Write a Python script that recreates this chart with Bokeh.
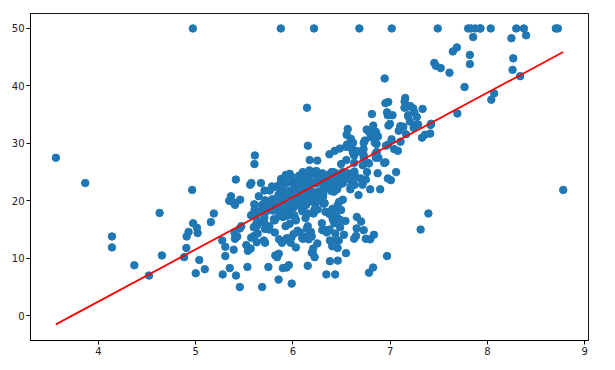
from bokeh.plotting import figure
from bokeh.models import FixedTicker, Range1d
from bokeh.embed import file_html
from bokeh.resources import INLINE

rm = [6.575,6.421,7.185,6.998,7.147,6.430,6.012,6.172,5.631,6.004,
6.377,6.009,5.889,5.949,6.096,5.834,5.935,5.990,5.456,5.727,
5.570,5.965,6.142,5.813,5.924,5.599,5.813,6.047,6.495,6.674,
5.713,6.072,5.950,5.701,6.096,5.933,5.841,5.850,5.966,6.595,
7.024,6.770,6.169,6.211,6.069,5.682,5.786,6.030,5.399,5.602,
5.963,6.115,6.511,5.998,5.888,7.249,6.383,6.816,6.145,5.927,
5.741,5.966,6.456,6.762,7.104,6.290,5.787,5.878,5.594,5.885,
6.417,5.961,6.065,6.245,6.273,6.286,6.279,6.140,6.232,5.874,
6.727,6.619,6.302,6.167,6.389,6.630,6.015,6.121,7.007,7.079,
6.417,6.405,6.442,6.211,6.249,6.625,6.163,8.069,7.820,7.416,
6.727,6.781,6.405,6.137,6.167,5.851,5.836,6.127,6.474,6.229,
6.195,6.715,5.913,6.092,6.254,5.928,6.176,6.021,5.872,5.731,
5.870,6.004,5.961,5.856,5.879,5.986,5.613,5.693,6.431,5.637,
6.458,6.326,6.372,5.822,5.757,6.335,5.942,6.454,5.857,6.151,
6.174,5.019,5.403,5.468,4.903,6.130,5.628,4.926,5.186,5.597,
6.122,5.404,5.012,5.709,6.129,6.152,5.272,6.943,6.066,6.510,
6.250,7.489,7.802,8.375,5.854,6.101,7.929,5.877,6.319,6.402,
5.875,5.880,5.572,6.416,5.859,6.546,6.020,6.315,6.860,6.980,
7.765,6.144,7.155,6.563,5.604,6.153,7.831,6.782,6.556,7.185,
6.951,6.739,7.178,6.800,6.604,7.875,7.287,7.107,7.274,6.975,
7.135,6.162,7.610,7.853,8.034,5.891,6.326,5.783,6.064,5.344,
5.960,5.404,5.807,6.375,5.412,6.182,5.888,6.642,5.951,6.373,
6.951,6.164,6.879,6.618,8.266,8.725,8.040,7.163,7.686,6.552,
5.981,7.412,8.337,8.247,6.726,6.086,6.631,7.358,6.481,6.606,
6.897,6.095,6.358,6.393,5.593,5.605,6.108,6.226,6.433,6.718,
6.487,6.438,6.957,8.259,6.108,5.876,7.454,8.704,7.333,6.842,
7.203,7.520,8.398,7.327,7.206,5.560,7.014,8.297,7.470,5.920,
5.856,6.240,6.538,7.691,6.758,6.854,7.267,6.826,6.482,6.812,
7.820,6.968,7.645,7.923,7.088,6.453,6.230,6.209,6.315,6.565,
6.861,7.148,6.630,6.127,6.009,6.678,6.549,5.790,6.345,7.041,
6.871,6.590,6.495,6.982,7.236,6.616,7.420,6.849,6.635,5.972,
4.973,6.122,6.023,6.266,6.567,5.705,5.914,5.782,6.382,6.113,
6.426,6.376,6.041,5.708,6.415,6.431,6.312,6.083,5.868,6.333,
6.144,5.706,6.031,6.316,6.310,6.037,5.869,5.895,6.059,5.985,
5.968,7.241,6.540,6.696,6.874,6.014,5.898,6.516,6.635,6.939,
6.490,6.579,5.884,6.728,5.663,5.936,6.212,6.395,6.127,6.112,
6.398,6.251,5.362,5.803,8.780,3.561,4.963,3.863,4.970,6.683,
7.016,6.216,5.875,4.906,4.138,7.313,6.649,6.794,6.380,6.223,
6.968,6.545,5.536,5.520,4.368,5.277,4.652,5.000,4.880,5.390,
5.713,6.051,5.036,6.193,5.887,6.471,6.405,5.747,5.453,5.852,
5.987,6.343,6.404,5.349,5.531,5.683,4.138,5.608,5.617,6.852,
5.757,6.657,4.628,5.155,4.519,6.434,6.782,5.304,5.957,6.824,
6.411,6.006,5.648,6.103,5.565,5.896,5.837,6.202,6.193,6.380,
6.348,6.833,6.425,6.436,6.208,6.629,6.461,6.152,5.935,5.627,
5.818,6.406,6.219,6.485,5.854,6.459,6.341,6.251,6.185,6.417,
6.749,6.655,6.297,7.393,6.728,6.525,5.976,5.936,6.301,6.081,
6.701,6.376,6.317,6.513,6.209,5.759,5.952,6.003,5.926,5.713,
6.167,6.229,6.437,6.980,5.427,6.162,6.484,5.304,6.185,6.229,
6.242,6.750,7.061,5.762,5.871,6.312,6.114,5.905,5.454,5.414,
5.093,5.983,5.983,5.707,5.926,5.670,5.390,5.794,6.019,5.569,
6.027,6.593,6.120,6.976,6.794,6.030]

medv = [24.0,21.6,34.7,33.4,36.2,28.7,22.9,27.1,16.5,18.9,
15.0,18.9,21.7,20.4,18.2,19.9,23.1,17.5,20.2,18.2,
13.6,19.6,15.2,14.5,15.6,13.9,16.6,14.8,18.4,21.0,
12.7,14.5,13.2,13.1,13.5,18.9,20.0,21.0,24.7,30.8,
34.9,26.6,25.3,24.7,21.2,19.3,20.0,16.6,14.4,19.4,
19.7,20.5,25.0,23.4,18.9,35.4,24.7,31.6,23.3,19.6,
18.7,16.0,22.2,25.0,33.0,23.5,19.4,22.0,17.4,20.9,
24.2,21.7,22.8,23.4,24.1,21.4,20.0,20.8,21.2,20.3,
28.0,23.9,24.8,22.9,23.9,26.6,22.5,22.2,23.6,28.7,
22.6,22.0,22.9,25.0,20.6,28.4,21.4,38.7,43.8,33.2,
27.5,26.5,18.6,19.3,20.1,19.5,19.5,20.4,19.8,19.4,
21.7,22.8,18.8,18.7,18.5,18.3,21.2,19.2,20.4,19.3,
22.0,20.3,20.5,17.3,18.8,21.4,15.7,16.2,18.0,14.3,
19.2,19.6,23.0,18.4,15.6,18.1,17.4,17.1,13.3,17.8,
14.0,14.4,13.4,15.6,11.8,13.8,15.6,14.6,17.8,15.4,
21.5,19.6,15.3,19.4,17.0,15.6,13.1,41.3,24.3,23.3,
27.0,50.0,50.0,50.0,22.7,25.0,50.0,23.8,23.8,22.3,
17.4,19.1,23.1,23.6,22.6,29.4,23.2,24.6,29.9,37.2,
39.8,36.2,37.9,32.5,26.4,29.6,50.0,32.0,29.8,34.9,
37.0,30.5,36.4,31.1,29.1,50.0,33.3,30.3,34.6,34.9,
32.9,24.1,42.3,48.5,50.0,22.6,24.4,22.5,24.4,20.0,
21.7,19.3,22.4,28.1,23.7,25.0,23.3,28.7,21.5,23.0,
26.7,21.7,27.5,30.1,44.8,50.0,37.6,31.6,46.7,31.5,
24.3,31.7,41.7,48.3,29.0,24.0,25.1,31.5,23.7,23.3,
22.0,20.1,22.2,23.7,17.6,18.5,24.3,20.5,24.5,26.2,
24.4,24.8,29.6,42.8,21.9,20.9,44.0,50.0,36.0,30.1,
33.8,43.1,48.8,31.0,36.5,22.8,30.7,50.0,43.5,20.7,
21.1,25.2,24.4,35.2,32.4,32.0,33.2,33.1,29.1,35.1,
45.4,35.4,46.0,50.0,32.2,22.0,20.1,23.2,22.3,24.8,
28.5,37.3,27.9,23.9,21.7,28.6,27.1,20.3,22.5,29.0,
24.8,22.0,26.4,33.1,36.1,28.4,33.4,28.2,22.8,20.3,
16.1,22.1,19.4,21.6,23.8,16.2,17.8,19.8,23.1,21.0,
23.8,23.1,20.4,18.5,25.0,24.6,23.0,22.2,19.3,22.6,
19.8,17.1,19.4,22.2,20.7,21.1,19.5,18.5,20.6,19.0,
18.7,32.7,16.5,23.9,31.2,17.5,17.2,23.1,24.5,26.6,
22.9,24.1,18.6,30.1,18.2,20.6,17.8,21.7,22.7,22.6,
25.0,19.9,20.8,16.8,21.9,27.5,21.9,23.1,50.0,50.0,
50.0,50.0,50.0,13.8,13.8,15.0,13.9,13.3,13.1,10.2,
10.4,10.9,11.3,12.3,8.8,7.2,10.5,7.4,10.2,11.5,
15.1,23.2,9.7,13.8,12.7,13.1,12.5,8.5,5.0,6.3,
5.6,7.2,12.1,8.3,8.5,5.0,11.9,27.9,17.2,27.5,
15.0,17.2,17.9,16.3,7.0,7.2,7.5,10.4,8.8,8.4,
16.7,14.2,20.8,13.4,11.7,8.3,10.2,10.9,11.0,9.5,
14.5,14.1,16.1,14.3,11.7,13.4,9.6,8.7,8.4,12.8,
10.5,17.1,18.4,15.4,10.8,11.8,14.9,12.6,14.1,13.0,
13.4,15.2,16.1,17.8,14.9,14.1,12.7,13.5,14.9,20.0,
16.4,17.7,19.5,20.2,21.4,19.9,19.0,19.1,19.1,20.1,
19.9,19.6,23.2,29.8,13.8,13.3,16.7,12.0,14.6,21.4,
23.0,23.7,25.0,21.8,20.6,21.2,19.1,20.6,15.2,7.0,
8.1,13.6,20.1,21.8,24.5,23.1,19.7,18.3,21.2,17.5,
16.8,22.4,20.6,23.9,22.0,11.9]

# fitted regression line, endpoints
line_x = [3.561, 8.780]
line_y = [-1.5, 45.9]

x_ticks = [4, 5, 6, 7, 8, 9]
y_ticks = [0, 10, 20, 30, 40, 50]

p = figure(width=598, height=362, output_backend="svg", toolbar_location=None,
           x_range=Range1d(3.30, 9.04), y_range=Range1d(-4.3, 52.6),
           min_border_left=30, min_border_right=10, min_border_top=13, min_border_bottom=22)

p.scatter(rm, medv, size=7.5, color="#1f77b4", line_color="#1f77b4")
p.line(line_x, line_y, line_color="red", line_width=1.8)

p.xgrid.visible = False
p.ygrid.visible = False
p.outline_line_color = "black"
p.outline_line_width = 1
p.outline_line_alpha = 0.9

p.xaxis.ticker = FixedTicker(ticks=x_ticks)
p.yaxis.ticker = FixedTicker(ticks=y_ticks)
for ax in (p.xaxis, p.yaxis):
    ax.minor_tick_line_color = None
    ax.major_tick_out = 4
    ax.major_tick_in = 0
    ax.major_label_standoff = 2
    ax.major_label_text_font = "DejaVu Sans"
    ax.major_label_text_font_size = "10px"
    ax.major_label_text_color = "#222222"
    ax.axis_line_color = "black"
    ax.major_tick_line_color = "black"

open("out.html", "w").write(file_html(p, INLINE))
